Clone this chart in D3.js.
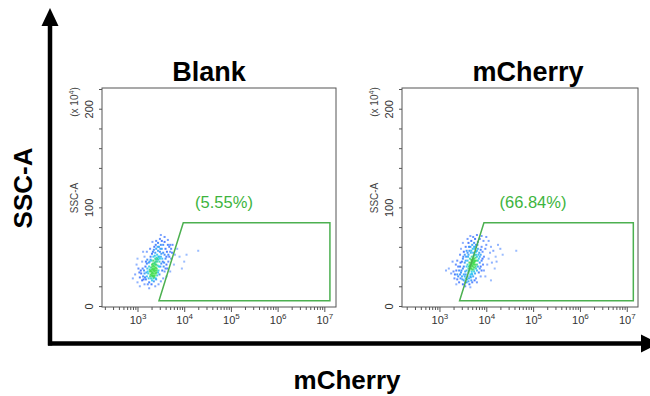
<!DOCTYPE html>
<html>
<head>
<meta charset="utf-8">
<script src="https://cdn.jsdelivr.net/npm/d3@7"></script>
<style>
  body { margin: 0; background: #fff; }
  svg { display: block; font-family: Arial, "Liberation Sans", sans-serif; }
</style>
</head>
<body>
<svg width="650" height="396"></svg>
<script>
// ---- data ----
const panelTitles = ["Blank", "mCherry"];
const gatePercents = ["(5.55%)", "(66.84%)"];
const yTicks = d3.range(0, 221, 20);
const yLabelled = [0, 100, 200];

// events: [log10(mCherry), SSC-A (x10^4)]
const blankEvents = [
  [3.30,35],[3.33,38],[3.36,40],[3.38,36],[3.40,42],[3.35,33],[3.32,30],[3.42,45],[3.39,39],[3.37,44],
  [3.34,41],[3.31,37],[3.28,32],[3.41,38],[3.44,47],[3.36,35],[3.33,43],[3.29,28],[3.38,48],[3.43,41],
  [3.35,37],[3.40,34],[3.32,40],[3.27,35],[3.45,50],[3.39,45],[3.30,31],[3.36,29],[3.34,46],[3.42,52],
  [3.20,30],[3.22,35],[3.18,27],[3.25,40],[3.24,28],[3.15,33],[3.12,30],[3.26,45],[3.21,38],[3.48,55],
  [3.50,50],[3.47,45],[3.52,58],[3.46,60],[3.44,56],[3.50,62],[3.40,58],[3.38,54],[3.55,62],[3.53,48],
  [3.49,40],[3.45,36],[3.47,32],[3.28,50],[3.30,46],[3.33,55],[3.36,60],[3.25,24],[3.30,22],[3.35,25],
  [3.40,27],[3.42,31],[3.20,43],[3.17,40],[3.14,36],[3.10,26],[3.08,33],[3.05,29],[3.22,22],[3.58,65],
  [3.55,54],[3.60,58],[3.52,66],[3.44,64],[3.48,68],[3.57,44],[3.62,50],
  [2.95,32],[2.90,28],[3.00,24],[3.02,38],[2.98,42],[3.10,45],[3.15,50],[3.20,55],[3.27,58],[3.32,65],
  [3.40,66],[3.50,72],[3.58,70],[3.65,67],[3.68,60],[3.70,55],[3.66,45],[3.72,48],[3.75,62],[3.80,52],
  [3.64,38],[3.58,35],[3.55,28],[3.50,25],[3.45,22],[3.38,20],[3.25,18],[3.15,22],[3.05,20],[3.78,42],
  [3.85,58],[3.90,50],[4.00,45],[4.05,52],[4.30,56],[3.95,38],[3.62,30],[3.70,35],[3.12,55],[3.00,48],
  [3.60,48],[3.63,55],[3.66,52],[3.70,62],[3.72,58],[3.68,50],[3.74,54],[3.62,42],[3.58,52],[3.56,40],
  [3.53,36],[3.60,38],[3.65,62],[3.54,45],[3.51,43],[3.46,50],[3.43,48],[3.41,49],[3.37,51],[3.34,50],
  [3.31,42],[3.29,39],[3.26,37],[3.23,33],[3.19,34],[3.16,29],[3.13,27],[3.11,38],[3.07,36],[3.04,34],
  [3.27,30],[3.31,26],[3.34,28],[3.37,31],[3.39,33],[3.44,34],[3.46,40],[3.48,48],[3.51,53],[3.49,58],
  [3.43,60],[3.39,62],[3.35,57],[3.31,53],[3.28,47],[3.24,44],[3.21,47],[3.18,45],[3.35,30],[3.39,28],
  [3.32,34],[3.37,38],[3.41,36],[3.34,36],[3.31,33],[3.36,43],[3.40,47],[3.33,31],[3.28,36],[3.38,42]
];
const mcherryEvents = [
  [3.68,42],[3.70,45],[3.72,48],[3.74,44],[3.71,40],[3.66,38],[3.69,50],[3.75,52],[3.73,46],[3.67,44],
  [3.64,36],[3.77,49],[3.70,37],[3.76,42],[3.72,54],[3.65,41],[3.62,34],[3.78,55],[3.68,47],[3.74,39],
  [3.80,50],[3.66,32],[3.71,43],[3.69,35],[3.75,58],[3.63,40],[3.79,46],[3.73,51],[3.60,30],[3.67,29],
  [3.55,35],[3.58,40],[3.52,32],[3.56,28],[3.50,38],[3.54,44],[3.48,30],[3.60,46],[3.57,50],[3.62,52],
  [3.64,56],[3.66,60],[3.70,62],[3.74,64],[3.78,62],[3.82,58],[3.85,54],[3.84,48],[3.88,52],[3.86,44],
  [3.82,40],[3.80,36],[3.76,33],[3.72,30],[3.68,26],[3.62,25],[3.58,24],[3.52,26],[3.46,34],[3.44,40],
  [3.48,45],[3.50,48],[3.54,52],[3.58,56],[3.68,66],[3.76,68],[3.82,65],[3.90,60],[3.92,55],[3.95,50],
  [3.90,46],[3.88,40],[3.84,34],[3.78,28],[3.70,24],[3.64,22],[3.40,30],[3.42,36],[3.38,32],[3.45,28],
  [3.98,58],[4.00,62],[3.94,66],[3.86,68],[3.72,70],[3.62,64],[3.56,60],[3.52,55],
  [3.30,35],[3.25,33],[3.20,38],[3.14,36],[3.35,42],[3.38,46],[3.32,28],[3.42,24],[3.50,22],[3.55,20],
  [3.66,19],[3.80,24],[3.88,30],[3.95,36],[4.02,42],[4.05,48],[4.08,54],[4.10,60],[4.05,66],[4.00,70],
  [3.90,71],[3.80,72],[3.66,71],[3.60,68],[3.50,64],[3.46,58],[3.44,52],[4.15,56],[4.20,50],[4.25,62],
  [4.30,58],[4.35,52],[4.12,44],[4.18,38],[3.98,30],[4.10,26],[4.64,56],[3.36,22],[3.28,45],[4.22,45],
  [3.70,41],[3.72,44],[3.69,46],[3.73,42],[3.71,47],[3.67,40],[3.74,48],[3.68,38],[3.66,42],[3.76,46],
  [3.64,44],[3.78,52],[3.62,38],[3.65,48],[3.60,42],[3.58,36],[3.56,32],[3.54,30],[3.52,40],[3.56,46],
  [3.61,50],[3.63,60],[3.67,54],[3.71,58],[3.77,60],[3.80,56],[3.83,52],[3.86,50],[3.82,46],[3.80,42],
  [3.78,38],[3.74,35],[3.70,32],[3.66,30],[3.63,28],[3.59,27],[3.55,24],[3.49,27],[3.47,36],[3.45,44],
  [3.51,50],[3.60,54],[3.68,56],[3.74,60],[3.81,62],[3.88,57],[3.92,48],[3.93,42],[3.90,36],[3.86,38],
  [3.75,26],[3.40,40],[3.36,36],[3.33,32],[3.38,27],[3.44,32],[3.69,33],[3.77,40],[3.73,37],[3.75,45]
];
// gate polygons: [log10(mCherry), SSC-A]
const blankGate = [[3.46,5.4],[3.98,84.5],[7.12,84.5],[7.12,5.4]];
const mcherryGate = [[3.43,5.4],[3.95,84.5],[7.14,84.5],[7.14,5.4]];

const panels = [
  { x0: 102, x1: 336, dom: [2.24, 7.25], events: blankEvents, gate: blankGate, titleX: 209, pctX: 224 },
  { x0: 402, x1: 638, dom: [2.20, 7.24], events: mcherryEvents, gate: mcherryGate, titleX: 528, pctX: 533 }
];

const svg = d3.select("svg");
const plotTop = 88, plotBottom = 307;
const gateColor = "#4cb050";

const y = d3.scaleLinear().domain([-1, 221]).range([plotBottom, plotTop]);
const density = d3.scaleLinear()
  .domain([0, 6, 13, 20])
  .range(["#8ab2ff", "#2f68ff", "#22c8f0", "#3ddc4a"])
  .clamp(true);

const isDecade = v => Math.abs(Math.log10(v) - Math.round(Math.log10(v))) < 1e-9;

panels.forEach((p, i) => {
  const x = d3.scaleLog().domain(p.dom.map(d => Math.pow(10, d))).range([p.x0, p.x1]);
  const g = svg.append("g");

  // x axis: decades long, 2..9 short
  const xTicks = [];
  for (let e = 2; e <= 7; e++) for (let m = 1; m <= 9; m++) {
    const v = m * Math.pow(10, e);
    if (v >= x.domain()[0] && v <= x.domain()[1]) xTicks.push(v);
  }
  const xa = g.append("g")
    .attr("transform", `translate(0,${plotBottom})`)
    .call(d3.axisBottom(x).tickValues(xTicks).tickSize(3).tickFormat(""));
  xa.select(".domain").remove();
  xa.selectAll(".tick line").attr("stroke", "#555")
    .attr("y2", d => isDecade(d) ? 5 : 3);
  xa.selectAll(".tick text").each(function (d) {
    if (!isDecade(d)) return;
    const lg = Math.round(Math.log10(d));
    const t = d3.select(this).attr("y", 17).attr("dy", null).attr("fill", "#333").attr("font-size", 11);
    t.append("tspan").text("10");
    t.append("tspan").attr("dy", -5).attr("font-size", 8).text(lg);
  });

  // y axis
  const ya = g.append("g")
    .attr("transform", `translate(${p.x0},0)`)
    .call(d3.axisLeft(y).tickValues(yTicks).tickSize(3)
      .tickFormat(d => yLabelled.includes(d) ? d : ""));
  ya.select(".domain").remove();
  ya.selectAll(".tick line").attr("stroke", "#555");
  ya.selectAll(".tick text")
    .attr("fill", "#333").attr("font-size", 11)
    .attr("x", null).attr("dy", null)
    .attr("text-anchor", "middle")
    .attr("transform", "translate(-9,0) rotate(-90)");

  g.append("text")
    .attr("transform", `translate(${p.x0 - 24},198) rotate(-90)`)
    .attr("text-anchor", "middle").attr("font-size", 10).attr("fill", "#444")
    .text("SSC-A");
  const unit = g.append("text")
    .attr("transform", `translate(${p.x0 - 24},102) rotate(-90)`)
    .attr("text-anchor", "middle").attr("font-size", 10).attr("fill", "#444");
  unit.append("tspan").text("(x 10");
  unit.append("tspan").attr("dy", -4).attr("font-size", 7).text("4");
  unit.append("tspan").attr("dy", 4).text(")");

  // frame
  g.append("rect")
    .attr("x", p.x0).attr("y", plotTop)
    .attr("width", p.x1 - p.x0).attr("height", plotBottom - plotTop)
    .attr("fill", "none").attr("stroke", "#555").attr("stroke-width", 1);

  // events coloured by local density
  const pts = p.events.map(d => [x(Math.pow(10, d[0])), y(d[1])]);
  const counts = pts.map(a => pts.filter(b => Math.hypot(a[0] - b[0], a[1] - b[1]) < 5).length - 1);
  const order = d3.range(pts.length).sort((a, b) => counts[a] - counts[b]);
  g.append("g").selectAll("rect")
    .data(order)
    .join("rect")
    .attr("x", k => pts[k][0] - 1)
    .attr("y", k => pts[k][1] - 1)
    .attr("width", 2).attr("height", 2)
    .attr("fill", k => density(counts[k]))
    .attr("opacity", 0.85);

  // gate
  g.append("path")
    .attr("d", d3.line()(p.gate.map(d => [x(Math.pow(10, d[0])), y(d[1])])) + "Z")
    .attr("fill", "none").attr("stroke", gateColor).attr("stroke-width", 1.5);

  g.append("text")
    .attr("x", p.pctX).attr("y", 208)
    .attr("text-anchor", "middle").attr("font-size", 16.5).attr("fill", "#3db43d")
    .text(gatePercents[i]);

  g.append("text")
    .attr("x", p.titleX).attr("y", 81)
    .attr("text-anchor", "middle").attr("font-size", 27).attr("font-weight", "bold")
    .attr("fill", "#000")
    .text(panelTitles[i]);
});

// big axes with arrows
svg.append("line").attr("x1", 50).attr("y1", 24).attr("x2", 50).attr("y2", 345.5)
  .attr("stroke", "#000").attr("stroke-width", 4.5);
svg.append("line").attr("x1", 48).attr("y1", 343.5).attr("x2", 642).attr("y2", 343.5)
  .attr("stroke", "#000").attr("stroke-width", 4.5);
svg.append("path").attr("d", "M50,8 L58.5,26 L41.5,26 Z").attr("fill", "#000");
svg.append("path").attr("d", "M659,343.5 L641,334.5 L641,352.5 Z").attr("fill", "#000");

svg.append("text")
  .attr("transform", "translate(32,188) rotate(-90)")
  .attr("text-anchor", "middle").attr("font-size", 26).attr("font-weight", "bold")
  .text("SSC-A");
svg.append("text")
  .attr("x", 347).attr("y", 389)
  .attr("text-anchor", "middle").attr("font-size", 26).attr("font-weight", "bold")
  .text("mCherry");
</script>
</body>
</html>
